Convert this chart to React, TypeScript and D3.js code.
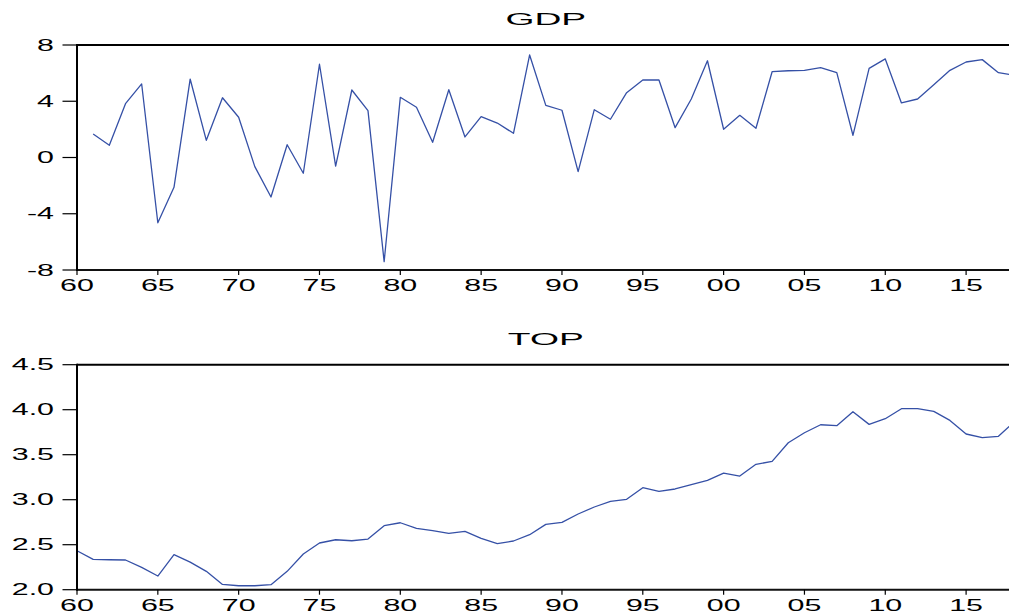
import React from "react";
import * as d3 from "d3";

const gdpYears: number[] = d3.range(1961, 2019);
const gdpValues: number[] = [
  1.67, 0.87, 3.83, 5.23, -4.64, -2.12, 5.58, 1.22, 4.25, 2.86,
  -0.65, -2.81, 0.91, -1.12, 6.63, -0.62, 4.8, 3.33, -7.41, 4.28,
  3.57, 1.08, 4.82, 1.46, 2.9, 2.45, 1.72, 7.29, 3.71, 3.36,
  -1.01, 3.4, 2.72, 4.61, 5.51, 5.51, 2.12, 4.16, 6.88, 2.01,
  3.0, 2.08, 6.1, 6.17, 6.2, 6.39, 6.03, 1.58, 6.34, 7.01,
  3.88, 4.16, 5.18, 6.2, 6.79, 6.96, 6.03, 5.85,
];

const topYears: number[] = d3.range(1960, 2019);
const topValues: number[] = [
  2.433, 2.337, 2.333, 2.33, 2.248, 2.152, 2.389, 2.307, 2.204, 2.059,
  2.044, 2.044, 2.056, 2.204, 2.396, 2.519, 2.555, 2.544, 2.563, 2.711,
  2.744, 2.681, 2.656, 2.626, 2.648, 2.57, 2.511, 2.541, 2.611, 2.726,
  2.748, 2.841, 2.919, 2.981, 3.004, 3.133, 3.093, 3.119, 3.167, 3.215,
  3.296, 3.263, 3.393, 3.426, 3.633, 3.744, 3.833, 3.822, 3.978, 3.837,
  3.9, 4.011, 4.011, 3.981, 3.881, 3.73, 3.689, 3.704, 3.87,
];

const xTickYears: number[] = [1960, 1965, 1970, 1975, 1980, 1985, 1990, 1995, 2000, 2005, 2010, 2015];
const gdpTicks: number[] = [-8, -4, 0, 4, 8];
const topTicks: number[] = [2.0, 2.5, 3.0, 3.5, 4.0, 4.5];

const W = 1009;
const H = 611;
const LEFT = 77;
const RIGHT = 1014.6;
const LINE_COLOR = "#3550a6";
const FONT = "'Liberation Sans', Arial, Helvetica, sans-serif";
const LABEL_SX = 1.9;
const TITLE_SX = 2.33;

type PanelProps = {
  title: string;
  years: number[];
  values: number[];
  domain: [number, number];
  ticks: number[];
  fmt: (v: number) => string;
  top: number;
  bottom: number;
  titleBaseline: number;
};

function Panel({ title, years, values, domain, ticks, fmt, top, bottom, titleBaseline }: PanelProps) {
  const x = d3.scaleLinear().domain([1960, 2018]).range([LEFT, RIGHT]);
  const y = d3.scaleLinear().domain(domain).range([bottom, top]);
  const line = d3
    .line<number>()
    .x((_, i) => x(years[i]))
    .y((d) => y(d));
  const cx = (LEFT + RIGHT) / 2;
  return (
    <g>
      <text
        transform={`translate(${cx},${titleBaseline}) scale(${TITLE_SX},1)`}
        textAnchor="middle"
        fontFamily={FONT}
        fontSize={16}
        fill="#000"
      >
        {title}
      </text>
      <path d={line(values) || ""} fill="none" stroke={LINE_COLOR} strokeWidth={1.3} strokeLinejoin="round" />
      {/* frame */}
      <line x1={LEFT} x2={RIGHT + 5} y1={top} y2={top} stroke="#000" strokeWidth={2} />
      <line x1={LEFT} x2={RIGHT + 5} y1={bottom} y2={bottom} stroke="#111" strokeWidth={2} />
      <line x1={LEFT} x2={LEFT} y1={top - 1} y2={bottom + 1} stroke="#000" strokeWidth={2} />
      {/* y ticks */}
      {ticks.map((t) => (
        <g key={"y" + t}>
          <line x1={LEFT - 14.5} x2={LEFT} y1={y(t)} y2={y(t)} stroke="#000" strokeWidth={1.2} />
          <text
            transform={`translate(${54},${y(t) + 5.7}) scale(${LABEL_SX},1)`}
            textAnchor="end"
            fontFamily={FONT}
            fontSize={16}
            fill="#000"
          >
            {fmt(t)}
          </text>
        </g>
      ))}
      {/* x ticks */}
      {xTickYears.map((yr) => (
        <g key={"x" + yr}>
          <line x1={x(yr)} x2={x(yr)} y1={bottom} y2={bottom + 5} stroke="#000" strokeWidth={1.2} />
          <text
            transform={`translate(${x(yr)},${bottom + 21}) scale(${LABEL_SX},1)`}
            textAnchor="middle"
            fontFamily={FONT}
            fontSize={16}
            fill="#000"
          >
            {String(yr % 100).padStart(2, "0")}
          </text>
        </g>
      ))}
    </g>
  );
}

export default function App() {
  return (
    <svg
      width={W}
      height={H}
      style={{ position: "absolute", left: 0, top: 0, background: "#fff" }}
    >
      <rect x={0} y={0} width={W} height={H} fill="#fff" />
      <Panel
        title="GDP"
        years={gdpYears}
        values={gdpValues}
        domain={[-8, 8]}
        ticks={gdpTicks}
        fmt={(v) => String(v)}
        top={45}
        bottom={270}
        titleBaseline={24.8}
      />
      <Panel
        title="TOP"
        years={topYears}
        values={topValues}
        domain={[2, 4.5]}
        ticks={topTicks}
        fmt={(v) => v.toFixed(1)}
        top={364.7}
        bottom={589.7}
        titleBaseline={344.5}
      />
    </svg>
  );
}
